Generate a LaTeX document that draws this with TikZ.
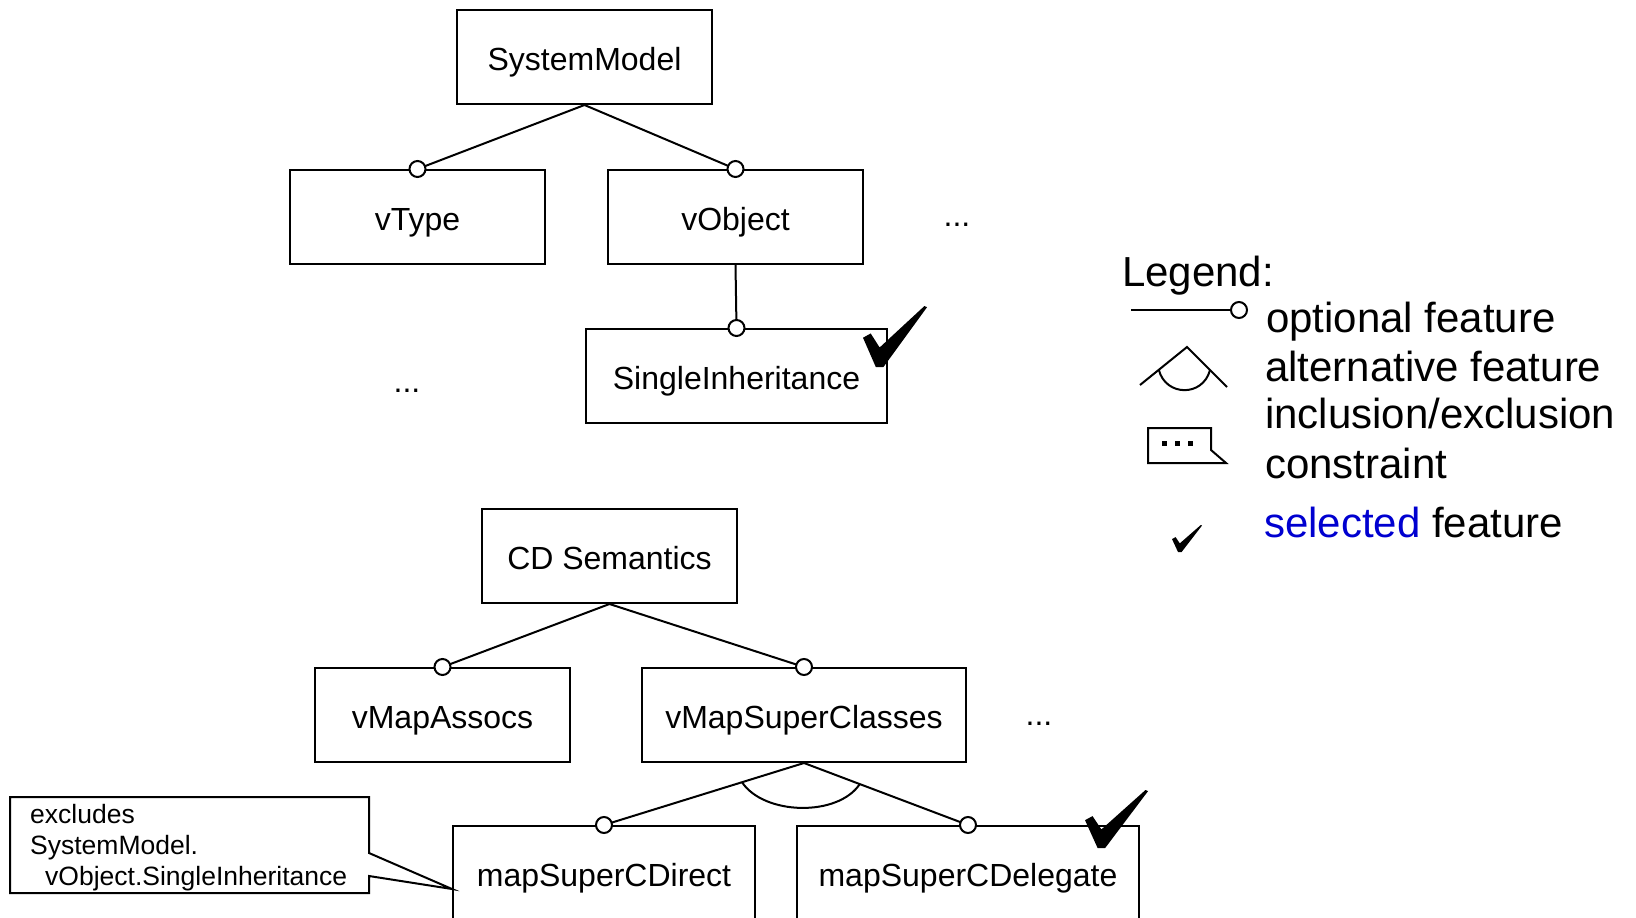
\documentclass[tikz,border=0pt]{standalone}
\usepackage{fontspec}
\setmainfont{Liberation Sans}
\usetikzlibrary{calc}
\definecolor{selblue}{RGB}{0,0,208}
\begin{document}
\begin{tikzpicture}[x=1pt,y=-1pt,
 fbox/.style={draw, line width=2pt, minimum height=94pt, inner sep=0pt, text height=26pt, text depth=0pt, font=\fontsize{32}{38}\selectfont},
 optc/.style={circle, draw, fill=white, line width=2pt, minimum size=16pt, inner sep=0pt},
 conn/.style={line width=2pt},
 dots/.style={font=\fontsize{32}{38}\selectfont, anchor=base, inner sep=0pt},
 legtxt/.style={font=\fontsize{42}{50}\selectfont, anchor=base west, inner sep=0pt},
 notetxt/.style={font=\fontsize{26.5}{31}\selectfont, anchor=base west, inner sep=0pt},
 chk/.pic={\fill (0,0.52) -- (0.12,0.45) -- (0.26,0.68) -- (0.96,0) -- (1,0.02) -- (0.32,1) -- (0.2,1) -- cycle;}
]
\useasboundingbox (0,0) rectangle (1636,918);

% upper tree
\node[fbox, minimum width=255pt] (sm) at (584.5,57) {SystemModel};
\node[fbox, minimum width=255pt] (vt) at (417.5,217) {vType};
\node[fbox, minimum width=255pt] (vo) at (735.5,217) {vObject};
\node[fbox, minimum width=301pt] (si) at (736.5,376) {SingleInheritance};
\node[dots] (d1) at (957,226) {...};
\node[dots] (d2) at (407,392) {...};

\draw[conn] (sm.south) -- (vt.north);
\draw[conn] (sm.south) -- (vo.north);
\draw[conn] (vo.south) -- (si.north);
\node[optc] (cvt) at (vt.north) {};
\node[optc] (cvo) at (vo.north) {};
\node[optc] (csi) at (si.north) {};

% lower tree
\node[fbox, minimum width=255pt] (cd) at (609.5,556) {CD Semantics};
\node[fbox, minimum width=255pt] (vma) at (442.5,715) {vMapAssocs};
\node[fbox, minimum width=324pt] (vms) at (804,715) {vMapSuperClasses};
\node[fbox, minimum width=302pt] (msd) at (604,873) {mapSuperCDirect};
\node[fbox, minimum width=342pt] (msg) at (968,873) {mapSuperCDelegate};
\node[dots] (d3) at (1039,725) {...};

\draw[conn] (cd.south) -- (vma.north);
\draw[conn] (cd.south) -- (vms.north);
\draw[conn] (vms.south) -- (msd.north);
\draw[conn] (vms.south) -- (msg.north);
\coordinate (a1) at ($(vms.south)!0.31!(msd.north)$);
\coordinate (a2) at ($(vms.south)!0.34!(msg.north)$);
\draw[conn] (a1) .. controls +(22,33) and +(-22,33) .. (a2);
\node[optc] (cvma) at (vma.north) {};
\node[optc] (cvms) at (vms.north) {};
\node[optc] (cmsd) at (msd.north) {};
\node[optc] (cmsg) at (msg.north) {};

% constraint note
\coordinate (ntip) at ($(msd.south west)+(0,-32)$);
\draw[conn, fill=white] (10,797) -- (369,797) -- (369,853) -- (ntip) -- (369,876) -- (369,893) -- (10,893) -- cycle;
\node[notetxt] (n1) at (30,823) {excludes};
\node[notetxt] (n2) at (30,854) {SystemModel.};
\node[notetxt] (n3) at (45,885) {vObject.SingleInheritance};

% check marks
\path (863,306) pic[x=64pt,y=-61pt]{chk};
\path (1085,790) pic[x=63pt,y=-58pt]{chk};

% legend
\node[legtxt] (lg) at (1122,286) {Legend:};
\coordinate (lo1) at (1131,310);
\node[optc] (loc) at (1239,310) {};
\draw[conn] (lo1) -- (loc.west);
\node[legtxt] (lopt) at (1266,332) {optional feature};

\coordinate (lap) at (1187,347);
\coordinate (lal) at (1140,385);
\coordinate (lar) at (1227,387);
\draw[conn] (lal) -- (lap) -- (lar);
\draw[conn] ($(lap)!0.6!(lal)$) .. controls +(7,27) and +(-7,27) .. ($(lap)!0.575!(lar)$);
\node[legtxt] (lalt) at (1265,381) {alternative feature};

\draw[conn] (1148,428) -- (1211,428) -- (1211,450) -- (1226,463) -- (1148,463) -- cycle;
\fill (1162,441) rectangle +(5,5);
\fill (1175,441) rectangle +(5,5);
\fill (1188,441) rectangle +(5,5);
\node[legtxt] (linc) at (1265,428) {inclusion/exclusion};
\node[legtxt] (lcon) at (1265,478) {constraint};

\path (1172,525) pic[x=30pt,y=-27pt]{chk};
\node[legtxt] (lsel) at (1264,537) {\textcolor{selblue}{selected} feature};
\end{tikzpicture}
\end{document}
